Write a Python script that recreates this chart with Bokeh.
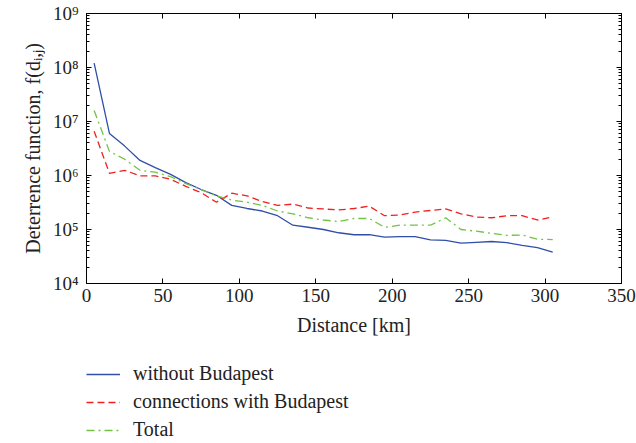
from bokeh.plotting import figure
from bokeh.layouts import column
from bokeh.models import (FixedTicker, CustomJSTickFormatter, LinearAxis, LogAxis,
                          Legend, LegendItem, Range1d)
from bokeh.embed import file_html
from bokeh.resources import INLINE

# ---- data ----
distance_km = [5, 15, 25, 35, 45, 55, 65, 75, 85, 95, 105, 115, 125, 135, 145, 155,
               165, 175, 185, 195, 205, 215, 225, 235, 245, 255, 265, 275, 285, 295, 305]

without_budapest = [1.2e8, 6.0e6, 3.5e6, 1.9e6, 1.4e6, 1.05e6, 7.4e5, 5.5e5, 4.3e5, 2.8e5,
                    2.45e5, 2.2e5, 1.8e5, 1.2e5, 1.1e5, 1.0e5, 8.7e4, 8.0e4, 8.0e4, 7.2e4,
                    7.4e4, 7.4e4, 6.4e4, 6.3e4, 5.6e4, 5.8e4, 6.0e4, 5.7e4, 5.1e4, 4.6e4, 3.8e4]

with_budapest = [6.6e6, 1.1e6, 1.25e6, 9.8e5, 9.8e5, 8.5e5, 6.3e5, 4.8e5, 3.2e5, 4.7e5,
                 4.2e5, 3.3e5, 2.8e5, 2.95e5, 2.5e5, 2.4e5, 2.3e5, 2.45e5, 2.7e5, 1.8e5,
                 1.85e5, 2.1e5, 2.25e5, 2.4e5, 1.95e5, 1.7e5, 1.65e5, 1.8e5, 1.8e5, 1.5e5, 1.7e5]

total = [1.6e7, 2.8e6, 2.0e6, 1.25e6, 1.15e6, 9.5e5, 7.1e5, 5.5e5, 4.2e5, 3.5e5,
         3.2e5, 2.8e5, 2.2e5, 1.95e5, 1.65e5, 1.5e5, 1.4e5, 1.6e5, 1.6e5, 1.1e5,
         1.2e5, 1.2e5, 1.2e5, 1.65e5, 1.0e5, 9.3e4, 8.5e4, 7.8e4, 7.9e4, 6.6e4, 6.5e4]

series_labels = ["without Budapest", "connections with Budapest", "Total"]
series_colors = ["#2f4fa8", "#f02020", "#72c244"]
series_dash = ["solid", "7 4", "8 4 2 4"]
x_ticks = [0, 50, 100, 150, 200, 250, 300, 350]
y_ticks = [1e4, 1e5, 1e6, 1e7, 1e8, 1e9]

FONT = "Liberation Serif"
FS = "19px"
FS_LABEL = "20px"

y_minor = []
for d in y_ticks[:-1]:
    for k in range(2, 10):
        y_minor.append(d * k)

p = figure(frame_width=535, frame_height=270, output_backend="svg", toolbar_location=None,
           y_axis_type="log", x_range=Range1d(0, 350), y_range=Range1d(1e4, 1e9),
           min_border_left=86, min_border_right=15, min_border_top=13, min_border_bottom=62)

p.xgrid.visible = False
p.ygrid.visible = False
p.outline_line_color = "black"
p.outline_line_width = 1
p.background_fill_color = "white"
p.border_fill_color = "white"

fmt = CustomJSTickFormatter(code="""
const sup = {"0":"\u2070","1":"\u00b9","2":"\u00b2","3":"\u00b3","4":"\u2074","5":"\u2075","6":"\u2076","7":"\u2077","8":"\u2078","9":"\u2079"};
const e = String(Math.round(Math.log10(tick)));
let s = "";
for (const c of e) s += sup[c];
return "10" + s;
""")

xa = p.xaxis[0]
xa.ticker = FixedTicker(ticks=x_ticks)
xa.axis_label = "Distance [km]"
ya = p.yaxis[0]
ya.ticker = FixedTicker(ticks=y_ticks, minor_ticks=y_minor)
ya.formatter = fmt
ya.axis_label = "Deterrence function, f(d\u1d62,\u2c7c)"

for ax in (xa, ya):
    ax.major_label_text_font = FONT
    ax.major_label_text_font_size = FS
    ax.major_label_text_color = "#222222"
    ax.axis_label_text_font = FONT
    ax.axis_label_text_font_size = FS_LABEL
    ax.axis_label_text_font_style = "normal"
    ax.axis_label_text_color = "#222222"
    ax.major_tick_in = 5
    ax.major_tick_out = 0
    ax.minor_tick_in = 3
    ax.minor_tick_out = 0
    ax.axis_line_color = "black"
    ax.major_tick_line_color = "black"
    ax.minor_tick_line_color = "black"
xa.minor_tick_line_color = None
xa.major_label_standoff = 5
xa.axis_label_standoff = 9
ya.major_label_standoff = 8
ya.axis_label_standoff = 6

# mirrored axes (ticks only)
top = LinearAxis(ticker=FixedTicker(ticks=x_ticks), major_label_text_font_size="0px",
                 major_tick_in=5, major_tick_out=0, minor_tick_line_color=None)
right = LogAxis(ticker=FixedTicker(ticks=y_ticks, minor_ticks=y_minor),
                major_label_text_font_size="0px",
                major_tick_in=5, major_tick_out=0, minor_tick_in=3, minor_tick_out=0)
top.major_label_text_color = None
right.major_label_text_color = None
p.add_layout(top, "above")
p.add_layout(right, "right")

series = [without_budapest, with_budapest, total]
for vals, col, dash in zip(series, series_colors, series_dash):
    p.line(distance_km, vals, line_color=col, line_width=1.3, line_dash=dash)

# legend panel below the plot (its lines lie outside its own view range)
lg = figure(width=636, height=98, output_backend="svg", toolbar_location=None,
            x_axis_location=None, y_axis_location=None,
            x_range=Range1d(-1, 0), y_range=Range1d(-1, 0), min_border=0)
lg.xgrid.visible = False
lg.ygrid.visible = False
lg.outline_line_color = None
items = []
for lab, vals, col, dash in zip(series_labels, series, series_colors, series_dash):
    r = lg.line(distance_km, vals, line_color=col, line_width=1.3, line_dash=dash)
    items.append(LegendItem(label=lab, renderers=[r]))

legend = Legend(items=items, location=(0, 2), orientation="vertical",
                label_text_font=FONT, label_text_font_size=FS_LABEL, label_text_color="#222222",
                glyph_width=34, glyph_height=20, label_height=20, label_standoff=13,
                spacing=5, padding=0, margin=0, border_line_color=None,
                background_fill_alpha=0)
lg.add_layout(legend, "center")

layout = column(p, lg, spacing=0)
open("out.html", "w").write(file_html(layout, INLINE))
